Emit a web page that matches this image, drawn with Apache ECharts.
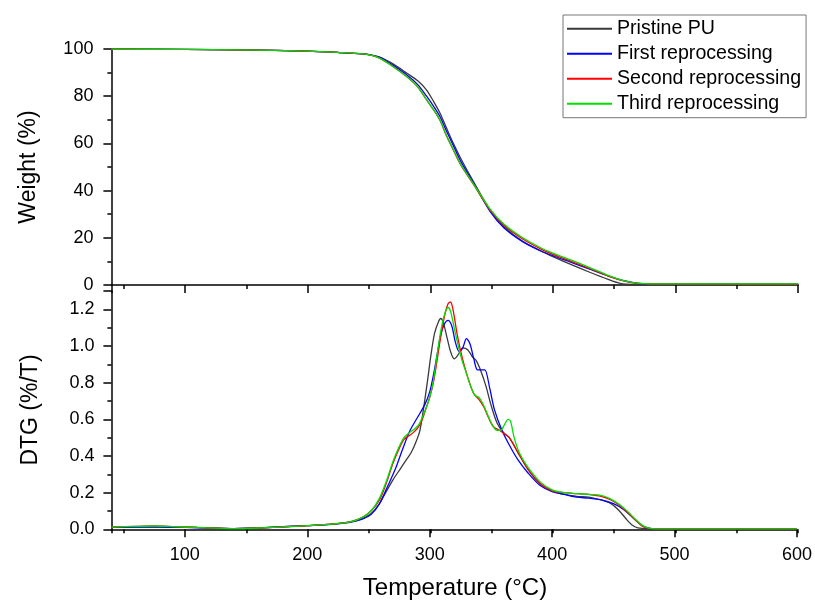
<!DOCTYPE html>
<html>
<head>
<meta charset="utf-8">
<script src="https://cdn.jsdelivr.net/npm/echarts@6/dist/echarts.min.js"></script>
<style>html,body{margin:0;padding:0;background:#fff}#c{width:815px;height:603px}</style>
</head>
<body>
<div id="c"></div>
<script>
// ---- data ----
var seriesNames = ['Pristine PU', 'First reprocessing', 'Second reprocessing', 'Third reprocessing'];
var xTickLabels = ['100', '200', '300', '400', '500', '600'];

// Weight (%) vs temperature (°C)
var weightPristine = [[40,100],[100,99.8],[145,99.6],[200,99.1],[226,98.5],[245,97.9],[253,97.3],[260,96.4],[270,93.6],[281,89.7],[290,86.4],[297,82.6],[303,77.5],[308,72.8],[313,66.8],[319,59.8],[325,53.5],[335,44],[349,31.5],[360,24.8],[375,18.6],[390,14.4],[400,12],[415,8.6],[430,5.4],[445,2.4],[455,0.7],[465,0.3],[500,0.25],[600,0.2]];
var weightFirst = [[40,100],[100,99.8],[145,99.6],[200,99.1],[226,98.5],[245,97.9],[253,97.3],[260,96.2],[270,93],[281,89],[290,84.8],[297,80],[303,75.5],[308,71.3],[313,65.5],[319,58.8],[325,52.3],[335,43.4],[349,31],[360,24.3],[375,18.5],[390,14.5],[400,12.4],[415,9.6],[430,6.7],[445,3.9],[460,1.6],[470,0.7],[480,0.45],[600,0.35]];
var weightSecond = [[40,100],[100,99.8],[145,99.6],[200,99.1],[226,98.5],[245,97.9],[253,97.2],[259,96],[270,92.5],[281,88.2],[290,83.8],[297,78.4],[303,74],[308,69.7],[313,63.5],[319,57],[325,50.8],[335,42.8],[349,31.6],[360,25.3],[375,19.6],[390,15.3],[400,13],[415,10],[430,7],[445,3.8],[460,1.4],[470,0.65],[480,0.45],[600,0.4]];
var weightThird = [[40,100],[100,99.8],[145,99.6],[200,99.1],[226,98.5],[245,97.9],[253,97.2],[259,96],[270,92.4],[281,88.2],[290,83.8],[297,78.5],[303,74],[308,69.8],[313,63.6],[319,57.2],[325,51],[335,43],[349,32],[360,25.8],[375,20.1],[390,15.8],[400,13.5],[415,10.5],[430,7.4],[445,4.1],[460,1.5],[470,0.7],[480,0.5],[600,0.45]];

// DTG (%/T) vs temperature (°C)
var dtgPristine = [[40,0.012],[60,0.013],[80,0.014],[100,0.012],[120,0.008],[140,0.004],[160,0.007],[180,0.014],[200,0.02],[220,0.028],[235,0.04],[245,0.06],[252,0.085],[258,0.13],[264,0.2],[270,0.27],[276,0.33],[281,0.38],[285,0.42],[289,0.48],[292,0.54],[295,0.66],[298,0.8],[301,0.95],[304,1.07],[307,1.13],[309,1.15],[311,1.13],[314,1.05],[317,0.97],[320,0.93],[323,0.95],[327,0.99],[331,0.98],[335,0.94],[338,0.92],[342,0.86],[346,0.78],[350,0.68],[355,0.58],[360,0.53],[365,0.5],[372,0.42],[380,0.33],[390,0.25],[400,0.21],[410,0.19],[420,0.18],[430,0.175],[440,0.16],[448,0.14],[455,0.1],[460,0.06],[465,0.025],[470,0.008],[480,0.003],[500,0.002],[600,0.002]];
var dtgFirst = [[40,0.01],[60,0.012],[80,0.012],[100,0.01],[120,0.007],[140,0.004],[160,0.008],[180,0.014],[200,0.02],[220,0.027],[235,0.038],[245,0.055],[252,0.08],[259,0.14],[266,0.24],[272,0.33],[278,0.44],[284,0.54],[290,0.61],[296,0.68],[300,0.75],[303,0.84],[306,0.95],[309,1.06],[312,1.12],[315,1.14],[318,1.11],[321,1.02],[324,0.97],[327,0.99],[330,1.04],[333,1.01],[336,0.93],[339,0.87],[342,0.87],[345,0.87],[349,0.77],[353,0.65],[359,0.54],[365,0.46],[372,0.38],[380,0.31],[390,0.24],[400,0.205],[410,0.19],[420,0.175],[430,0.17],[440,0.16],[450,0.14],[458,0.11],[465,0.07],[470,0.04],[475,0.015],[480,0.005],[490,0.002],[600,0.002]];
var dtgSecond = [[40,0.012],[60,0.016],[75,0.018],[90,0.015],[110,0.01],[140,0.004],[160,0.007],[180,0.013],[200,0.02],[220,0.028],[235,0.04],[245,0.065],[252,0.1],[259,0.16],[265,0.26],[270,0.36],[275,0.44],[279,0.49],[283,0.51],[287,0.53],[291,0.56],[294,0.6],[297,0.66],[300,0.72],[303,0.8],[306,0.92],[309,1.05],[312,1.16],[315,1.23],[317,1.24],[319,1.2],[322,1.08],[325,0.98],[328,0.9],[332,0.81],[336,0.74],[340,0.71],[344,0.67],[348,0.61],[352,0.56],[357,0.54],[361,0.52],[365,0.5],[372,0.42],[380,0.33],[390,0.25],[400,0.21],[410,0.2],[420,0.195],[430,0.19],[440,0.18],[448,0.16],[455,0.13],[462,0.09],[468,0.05],[473,0.02],[478,0.006],[485,0.002],[600,0.002]];
var dtgThird = [[40,0.012],[60,0.016],[75,0.018],[90,0.015],[110,0.01],[140,0.004],[160,0.007],[180,0.013],[200,0.02],[220,0.028],[235,0.04],[245,0.065],[252,0.1],[259,0.17],[265,0.27],[270,0.37],[275,0.45],[279,0.5],[283,0.525],[287,0.545],[291,0.57],[294,0.61],[297,0.66],[300,0.72],[303,0.81],[306,0.95],[309,1.08],[312,1.17],[315,1.21],[317,1.19],[320,1.1],[323,1.01],[326,0.93],[330,0.85],[334,0.77],[337,0.73],[340,0.72],[343,0.69],[347,0.63],[351,0.57],[355,0.54],[358,0.54],[361,0.57],[364,0.6],[366,0.59],[369,0.5],[373,0.42],[380,0.34],[390,0.26],[400,0.215],[410,0.2],[420,0.195],[430,0.19],[440,0.185],[448,0.165],[455,0.135],[462,0.095],[468,0.055],[473,0.025],[478,0.008],[485,0.002],[600,0.002]];

var colors = ['#3a3a3a', '#0000ff', '#ff0000', '#00e000'];
var weightData = [weightPristine, weightFirst, weightSecond, weightThird];
var dtgData = [dtgPristine, dtgFirst, dtgSecond, dtgThird];

// ---- chart ----
var FONT = '"Liberation Sans", Arial, sans-serif';
var chart = echarts.init(document.getElementById('c'), null, {renderer: 'canvas'});
var axLine = {show: true, onZero: false, lineStyle: {color: '#000', width: 1.5}};
var tickMajor = {show: true, inside: false, length: 8, lineStyle: {color: '#000', width: 1.5}};
var tickMinor = {show: true, inside: false, length: 4, lineStyle: {color: '#000', width: 1.5}};
var labStyle = {color: '#000', fontSize: 18, fontFamily: FONT};
var g0 = {left: 111.4, top: 49, width: 686.8, height: 236};
var g1 = {left: 111.4, top: 291, width: 686.8, height: 238.3};

function xMain(gi, showLabel) {
  return {type: 'value', gridIndex: gi, min: 40, max: 600, minInterval: 100, maxInterval: 100,
    axisLine: axLine, axisTick: tickMajor, splitLine: {show: false},
    axisLabel: Object.assign({show: showLabel, margin: 17, showMinLabel: false,
      formatter: function (v) { var s = String(Math.round(v)); return xTickLabels.indexOf(s) >= 0 ? s : ''; }}, labStyle)};
}
function xMinor(gi) {
  return {type: 'value', gridIndex: gi, min: 40, max: 600, minInterval: 50, maxInterval: 50,
    axisLine: {show: false}, axisTick: tickMinor, splitLine: {show: false}, axisLabel: {show: false}};
}

var series = [];
for (var i = 0; i < 4; i++) {
  series.push({name: seriesNames[i], type: 'line', xAxisIndex: 0, yAxisIndex: 0, data: weightData[i],
    smooth: 0.3, symbol: 'none', lineStyle: {color: colors[i], width: 1.3}, itemStyle: {color: colors[i]}, z: 2 + i});
}
for (var j = 0; j < 4; j++) {
  series.push({name: seriesNames[j], type: 'line', xAxisIndex: 1, yAxisIndex: 1, data: dtgData[j],
    smooth: 0.3, symbol: 'none', lineStyle: {color: colors[j], width: 1.3}, itemStyle: {color: colors[j]}, z: 2 + j});
}

chart.setOption({
  animation: false,
  backgroundColor: '#fff',
  grid: [g0, g1, Object.assign({}, g0), Object.assign({}, g1)],
  xAxis: [xMain(0, false), xMain(1, true), xMinor(2), xMinor(3)],
  yAxis: [
    {type: 'value', gridIndex: 0, min: 0, max: 100, interval: 20,
      axisLine: axLine, axisTick: tickMajor, splitLine: {show: false},
      minorTick: {show: true, splitNumber: 2, length: 4, lineStyle: {color: '#000', width: 1.5}},
      axisLabel: Object.assign({margin: 18}, labStyle)},
    {type: 'value', gridIndex: 1, min: 0, max: 1.3, interval: 0.2,
      axisLine: axLine, axisTick: tickMajor, splitLine: {show: false},
      minorTick: {show: true, splitNumber: 2, length: 4, lineStyle: {color: '#000', width: 1.5}},
      axisLabel: Object.assign({margin: 17, showMaxLabel: false,
        formatter: function (v) { return v.toFixed(1); }}, labStyle)},
    {type: 'value', gridIndex: 2, show: false, min: 0, max: 100},
    {type: 'value', gridIndex: 3, show: false, min: 0, max: 1.3}
  ],
  legend: {
    data: seriesNames, orient: 'vertical', left: 563, top: 15,
    padding: [3.7, 5, 4, 3], itemGap: 5, itemWidth: 45, itemHeight: 14,
    borderColor: '#777', borderWidth: 1, borderRadius: 0, backgroundColor: '#fff',
    itemStyle: {opacity: 0},
    textStyle: {color: '#000', fontSize: 19.6, fontFamily: FONT}
  },
  graphic: [
    {type: 'text', x: 29, y: 167, rotation: Math.PI / 2, style: {text: 'Weight (%)', fontSize: 23, fontFamily: FONT, fill: '#000', textAlign: 'center', textVerticalAlign: 'middle'}},
    {type: 'text', x: 31, y: 410, rotation: Math.PI / 2, style: {text: 'DTG (%/T)', fontSize: 23, fontFamily: FONT, fill: '#000', textAlign: 'center', textVerticalAlign: 'middle'}},
    {type: 'text', x: 455, y: 588, style: {text: 'Temperature (°C)', fontSize: 24, fontFamily: FONT, fill: '#000', textAlign: 'center', textVerticalAlign: 'middle'}}
  ],
  series: series
});
</script>
</body>
</html>
